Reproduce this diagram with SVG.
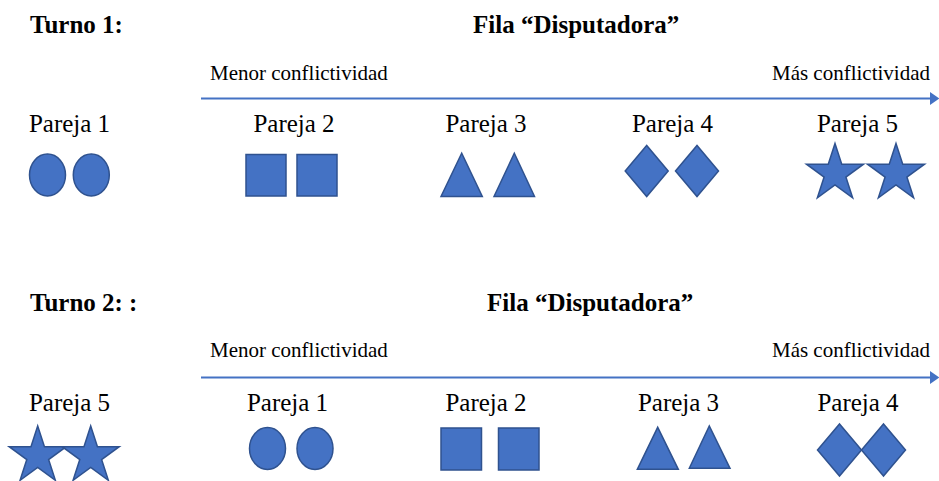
<svg xmlns="http://www.w3.org/2000/svg" xmlns:xlink="http://www.w3.org/1999/xlink" width="939" height="481" viewBox="0 0 939 481">
<style>
.t{font-family:"Liberation Serif","Times New Roman",serif;fill:#000}
.h{font-size:25px;font-weight:bold}
.lab{font-size:25px;text-anchor:middle}
.ax{font-size:21px}
.end{text-anchor:end}
.sh{fill:#4472C4;stroke:#2F528F;stroke-width:1.5;stroke-linejoin:miter}
.ar{stroke:#4472C4;stroke-width:2;fill:none}
</style>
<defs>
<marker id="ah" markerUnits="userSpaceOnUse" markerWidth="10" markerHeight="14" viewBox="0 0 10 14" refX="0" refY="6.5" orient="auto">
<path d="M0,0 L9.5,6.5 L0,13 Z" fill="#4472C4"/>
</marker>
<path id="star" d="M0,-30 L6.74,-9.27 L28.53,-9.27 L10.9,3.54 L17.63,24.27 L0,11.46 L-17.63,24.27 L-10.9,3.54 L-28.53,-9.27 L-6.74,-9.27 Z"/>
</defs>
<rect width="939" height="481" fill="#fff"/>

<g id="turno1">
<text class="t h" x="30" y="33">Turno 1:</text>
<text class="t h" x="473" y="33">Fila “Disputadora”</text>
<text class="t ax" x="210" y="80">Menor conflictividad</text>
<text class="t ax end" x="930" y="80">Más conflictividad</text>
</g>

<g id="connectors">
<line class="ar" x1="201" y1="98.5" x2="930" y2="98.5" marker-end="url(#ah)"/>
<line class="ar" x1="201" y1="377.5" x2="930" y2="377.5" marker-end="url(#ah)"/>
</g>

<g id="t1-pareja1">
<text class="t lab" x="69.5" y="132">Pareja 1</text>
<ellipse class="sh" cx="47.5" cy="175" rx="18" ry="21"/>
<ellipse class="sh" cx="91.3" cy="175" rx="18" ry="21"/>
</g>
<g id="t1-pareja2">
<text class="t lab" x="294" y="132">Pareja 2</text>
<rect class="sh" x="246" y="154.5" width="40" height="41.5"/>
<rect class="sh" x="297" y="154.5" width="40" height="41.5"/>
</g>
<g id="t1-pareja3">
<text class="t lab" x="486" y="132">Pareja 3</text>
<polygon class="sh" points="441,196.5 461.7,153.3 482.3,196.5"/>
<polygon class="sh" points="494,196.5 514.3,153.3 534.5,196.5"/>
</g>
<g id="t1-pareja4">
<text class="t lab" x="672.5" y="132">Pareja 4</text>
<polygon class="sh" points="625.2,171 646.7,145.5 668.2,171 646.7,196.5"/>
<polygon class="sh" points="675.5,171 697,145.5 718.5,171 697,196.5"/>
</g>
<g id="t1-pareja5">
<text class="t lab" x="857.5" y="132">Pareja 5</text>
<use xlink:href="#star" href="#star" class="sh" x="835" y="173.5"/>
<use xlink:href="#star" href="#star" class="sh" x="896" y="173.5"/>
</g>

<g id="turno2">
<text class="t h" x="30" y="311">Turno 2: :</text>
<text class="t h" x="487" y="311">Fila “Disputadora”</text>
<text class="t ax" x="210" y="357">Menor conflictividad</text>
<text class="t ax end" x="930" y="357">Más conflictividad</text>
</g>

<g id="t2-pareja5">
<text class="t lab" x="69.5" y="411">Pareja 5</text>
<use xlink:href="#star" href="#star" class="sh" x="37.7" y="456"/>
<use xlink:href="#star" href="#star" class="sh" x="90.7" y="456"/>
</g>
<g id="t2-pareja1">
<text class="t lab" x="287.5" y="411">Pareja 1</text>
<ellipse class="sh" cx="267.5" cy="448.5" rx="18" ry="21"/>
<ellipse class="sh" cx="315" cy="448.5" rx="18" ry="21"/>
</g>
<g id="t2-pareja2">
<text class="t lab" x="486" y="411">Pareja 2</text>
<rect class="sh" x="441" y="428" width="40.5" height="42"/>
<rect class="sh" x="498.5" y="428" width="40.5" height="42"/>
</g>
<g id="t2-pareja3">
<text class="t lab" x="678.5" y="411">Pareja 3</text>
<polygon class="sh" points="637.3,469.3 657.7,427.3 678.3,469.3"/>
<polygon class="sh" points="689.3,468.3 709.3,426 730,468.3"/>
</g>
<g id="t2-pareja4">
<text class="t lab" x="858" y="411">Pareja 4</text>
<polygon class="sh" points="817.5,450 839.5,424 861.5,450 839.5,476"/>
<polygon class="sh" points="861.5,450 883.5,424 905.5,450 883.5,476"/>
</g>
</svg>
